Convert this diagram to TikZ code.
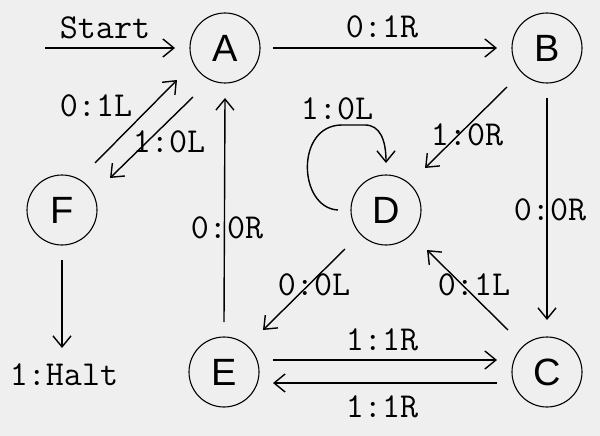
\documentclass[tikz,border=0pt]{standalone}
\usepackage{fontspec}
\usetikzlibrary{arrows.meta,calc}
\newfontfamily\statefont{Liberation Sans}
\definecolor{bg}{RGB}{239,239,239}
\tikzset{
  state/.style={circle,draw,line width=1.1pt,minimum size=70pt,inner sep=0pt,font=\statefont\fontsize{38}{40}\selectfont},
  lbl/.style={inner sep=0pt,font=\ttfamily\fontsize{35}{38}\selectfont},
  arr/.style={line width=1.4pt,-{Straight Barb[length=11pt,width=18pt,line width=1.4pt]}},
}
\begin{document}
\begin{tikzpicture}[x=1pt,y=-1pt]
\fill[bg] (0,0) rectangle (600,436);
\useasboundingbox (0,0) rectangle (600,436);
\node[state] (A) at (225,48) {A};
\node[state] (B) at (547,48) {B};
\node[state] (C) at (547,372) {C};
\node[state] (D) at (386,210) {D};
\node[state] (E) at (224,372) {E};
\node[state] (F) at (62,210) {F};
\coordinate (S) at (45,48);
\node[lbl] (Halt) at (64,375) {1:Halt};
% edges
\draw[arr] (S) -- ($(A)+(-50,0)$);
\draw[arr] ($(A)+(48,0)$) -- ($(B)+(-50,0)$);
\draw[arr] ($(B)+(-40,39)$) -- ($(D)+(39,-42)$);
\draw[arr] ($(B)+(0,50)$) -- ($(C)+(0,-52)$);
\draw[arr] ($(C)+(-39,-42)$) -- ($(D)+(41,40)$);
\draw[arr] ($(D)+(-41,39)$) -- ($(E)+(39,-42)$);
\draw[arr] ($(E)+(49,-12)$) -- ($(C)+(-50,-12)$);
\draw[arr] ($(C)+(-50,11)$) -- ($(E)+(49,11)$);
\draw[arr] ($(E)+(0,-50)$) -- ($(A)+(0,50)$);
\draw[arr] ($(A)+(-32,49)$) -- ($(F)+(48,-32)$);
\draw[arr] ($(F)+(33,-47)$) -- ($(A)+(-48,32)$);
\draw[arr] ($(F)+(0,50)$) -- ($(Halt)+(-2,-27)$);
\draw[arr] ($(D)+(-48,0)$) .. controls ($(D)+(-88,-2)$) and ($(D)+(-91,-85)$) .. ($(D)+(-44,-85)$) -- ($(D)+(-21,-85)$) .. controls ($(D)+(-6,-85)$) and ($(D)+(0,-70)$) .. ($(D)+(0,-47)$);
% labels
\node[lbl] (lstart) at (105,28) {Start};
\node[lbl] (lab) at (382,27) {0:1R};
\node[lbl] (lbd) at (467,135) {1:0R};
\node[lbl] (ldd) at (337,109) {1:0L};
\node[lbl] (lbc) at (550,210) {0:0R};
\node[lbl] (lcd) at (474,285) {0:1L};
\node[lbl] (lde) at (314,285) {0:0L};
\node[lbl] (lec) at (382,340) {1:1R};
\node[lbl] (lce) at (382,407) {1:1R};
\node[lbl] (lea) at (227,228) {0:0R};
\node[lbl] (lfa) at (96,106) {0:1L};
\node[lbl] (laf) at (169,142) {1:0L};
\end{tikzpicture}
\end{document}
